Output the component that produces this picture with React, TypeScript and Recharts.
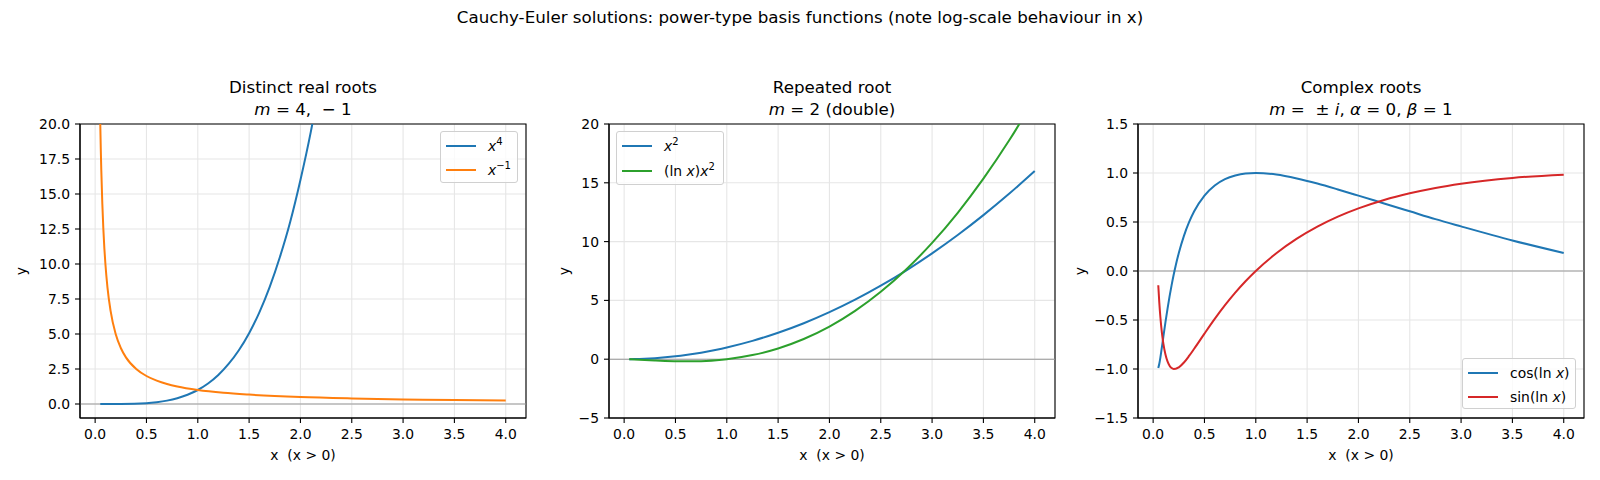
import React from "react"
import { CartesianGrid, Line, LineChart, ReferenceArea, ReferenceLine, XAxis, YAxis } from "recharts"

// values
const X_TICKS = [0, 0.5, 1, 1.5, 2, 2.5, 3, 3.5, 4]

// panel 1: distinct real roots
const P1_POW4_X = [0.05, 0.25, 0.5, 0.6, 0.7, 0.8, 0.9, 1.0, 1.1, 1.2, 1.3, 1.4, 1.5, 1.6, 1.7, 1.8, 1.9, 2.0, 2.1, 2.2]
const P1_POW4_Y = [0, 0.004, 0.06, 0.13, 0.24, 0.41, 0.66, 1.0, 1.46, 2.07, 2.86, 3.84, 5.06, 6.55, 8.35, 10.5, 13.0, 16.0, 19.4, 23.4]
const P1_INV_X = [0.05, 0.055, 0.06, 0.07, 0.08, 0.09, 0.1, 0.12, 0.15, 0.2, 0.25, 0.3, 0.4, 0.5, 0.6, 0.7, 0.8, 1.0, 1.25, 1.5, 2.0, 2.5, 3.0, 3.5, 4.0]
const P1_INV_Y = [20, 18.2, 16.7, 14.3, 12.5, 11.1, 10, 8.33, 6.67, 5, 4, 3.33, 2.5, 2, 1.67, 1.43, 1.25, 1, 0.8, 0.67, 0.5, 0.4, 0.33, 0.29, 0.25]
const P1_Y_TICKS = [0, 2.5, 5, 7.5, 10, 12.5, 15, 17.5, 20]

// panel 2: repeated root
const P2_X = [0.05, 0.1, 0.2, 0.3, 0.4, 0.5, 0.6, 0.7, 0.8, 0.9, 1.0, 1.25, 1.5, 1.75, 2.0, 2.25, 2.5, 2.75, 3.0, 3.25, 3.5, 3.75, 4.0]
const P2_SQ = [0.0025, 0.01, 0.04, 0.09, 0.16, 0.25, 0.36, 0.49, 0.64, 0.81, 1, 1.56, 2.25, 3.06, 4, 5.06, 6.25, 7.56, 9, 10.56, 12.25, 14.06, 16]
const P2_LNSQ = [-0.0075, -0.023, -0.064, -0.108, -0.147, -0.173, -0.184, -0.175, -0.143, -0.085, 0, 0.349, 0.912, 1.714, 2.77, 4.105, 5.73, 7.65, 9.89, 12.45, 15.35, 18.59, 22.18]
const P2_Y_TICKS = [-5, 0, 5, 10, 15, 20]

// panel 3: complex roots
const P3_X = [0.05, 0.06, 0.07, 0.08, 0.09, 0.1, 0.12, 0.14, 0.16, 0.18, 0.2, 0.22, 0.25, 0.3, 0.35, 0.4, 0.5, 0.6, 0.7, 0.8, 0.9, 1.0, 1.2, 1.4, 1.6, 1.8, 2.0, 2.25, 2.5, 2.75, 3.0, 3.5, 4.0]
const P3_COS = [-0.99, -0.947, -0.886, -0.816, -0.743, -0.668, -0.522, -0.386, -0.259, -0.144, -0.038, 0.057, 0.184, 0.359, 0.498, 0.609, 0.769, 0.872, 0.937, 0.975, 0.995, 1, 0.984, 0.944, 0.892, 0.832, 0.769, 0.689, 0.609, 0.529, 0.455, 0.312, 0.184]
const P3_SIN = [-0.145, -0.323, -0.464, -0.577, -0.67, -0.744, -0.853, -0.923, -0.966, -0.99, -0.999, -0.998, -0.983, -0.934, -0.867, -0.793, -0.639, -0.489, -0.349, -0.221, -0.105, 0, 0.181, 0.33, 0.453, 0.555, 0.639, 0.725, 0.793, 0.848, 0.891, 0.95, 0.983]
const P3_Y_TICKS = [-1.5, -1, -0.5, 0, 0.5, 1, 1.5]

const FONT = "'DejaVu Sans', sans-serif"
const X_DOMAIN: [number, number] = [-0.1475, 4.1975]
const PLOT_TOP = 124
const PLOT_H = 294
const PLOT_W = 446

const zip = (xs: number[], ys: number[]) => xs.map((x, i) => ({ x, y: ys[i] }))
const minus = (s: string) => s.replace("-", "\u2212")

const tickStyle = { fontSize: 13.9, fill: "#000", fontFamily: FONT }

interface SeriesDef {
  name: string
  color: string
  data: { x: number; y: number }[]
}

interface PanelProps {
  plotLeft: number
  yDomain: [number, number]
  yTicks: number[]
  yFmt: (v: number) => string
  series: SeriesDef[]
}

function Panel({ plotLeft, yDomain, yTicks, yFmt, series }: PanelProps) {
  const leftPad = 60
  return (
    <div style={{ position: "absolute", left: plotLeft - leftPad, top: 0 }}>
      <LineChart
        width={leftPad + PLOT_W + 4}
        height={480}
        margin={{ top: PLOT_TOP, right: 4, left: 5, bottom: 480 - PLOT_TOP - PLOT_H - 30 }}
      >
        <CartesianGrid stroke="#e6e6e6" strokeWidth={1.1} />
        <XAxis
          dataKey="x"
          type="number"
          domain={X_DOMAIN}
          ticks={X_TICKS}
          allowDataOverflow
          height={30}
          tickSize={5}
          tickMargin={6}
          tick={tickStyle}
          tickFormatter={(v: number) => v.toFixed(1)}
          stroke="#000"
          axisLine={{ stroke: "#000", strokeWidth: 1.1 }}
          tickLine={{ stroke: "#000", strokeWidth: 1.1 }}
          interval={0}
        />
        <YAxis
          type="number"
          domain={yDomain}
          ticks={yTicks}
          allowDataOverflow
          width={55}
          tickSize={5}
          tickMargin={5}
          tick={tickStyle}
          tickFormatter={(v: number) => minus(yFmt(v))}
          axisLine={{ stroke: "#000", strokeWidth: 1.1 }}
          tickLine={{ stroke: "#000", strokeWidth: 1.1 }}
          interval={0}
        />
        <ReferenceLine y={0} stroke="#999" strokeWidth={1.1} />
        {series.map((s) => (
          <Line
            key={s.name}
            data={s.data}
            dataKey="y"
            type="monotone"
            stroke={s.color}
            strokeWidth={2}
            dot={false}
            isAnimationActive={false}
          />
        ))}
        <ReferenceArea
          x1={X_DOMAIN[0]}
          x2={X_DOMAIN[1]}
          y1={yDomain[0]}
          y2={yDomain[1]}
          fill="none"
          fillOpacity={0}
          stroke="#000"
          strokeWidth={1.1}
        />
      </LineChart>
    </div>
  )
}

interface LegendRow {
  color: string
  label: React.ReactNode
  y: number
}

function LegendBox({ left, top, width, height, rows }: { left: number; top: number; width: number; height: number; rows: LegendRow[] }) {
  return (
    <div
      style={{
        position: "absolute",
        left,
        top,
        width,
        height,
        boxSizing: "border-box",
        border: "1px solid #d0d0d0",
        borderRadius: 3,
        background: "rgba(255,255,255,0.8)",
        fontFamily: FONT,
        fontSize: 13.9,
      }}
    >
      {rows.map((r, i) => (
        <React.Fragment key={i}>
          <div style={{ position: "absolute", left: 5, top: r.y - 1, width: 30, height: 2, background: r.color }} />
          <div style={{ position: "absolute", left: 47, top: r.y - 9, lineHeight: "18px", whiteSpace: "pre" }}>{r.label}</div>
        </React.Fragment>
      ))}
    </div>
  )
}

const Sup = ({ children }: { children: React.ReactNode }) => (
  <span style={{ fontSize: 10, position: "relative", top: -6 }}>{children}</span>
)

function Title({ cx, line1, line2 }: { cx: number; line1: string; line2: React.ReactNode }) {
  return (
    <div style={{ position: "absolute", left: cx - 200, width: 400, top: 76, textAlign: "center", fontFamily: FONT, fontSize: 16.7, lineHeight: "22px", whiteSpace: "pre" }}>
      <div>{line1}</div>
      <div>{line2}</div>
    </div>
  )
}

function AxisLabels({ plotLeft, yLabelX }: { plotLeft: number; yLabelX: number }) {
  return (
    <>
      <div style={{ position: "absolute", left: plotLeft, width: PLOT_W, top: 446, textAlign: "center", fontFamily: FONT, fontSize: 13.9, lineHeight: "18px", whiteSpace: "pre" }}>
        x  (x &gt; 0)
      </div>
      <div
        style={{
          position: "absolute",
          left: yLabelX - 20,
          width: 40,
          top: PLOT_TOP + PLOT_H / 2 - 9,
          textAlign: "center",
          fontFamily: FONT,
          fontSize: 13.9,
          lineHeight: "18px",
          transform: "rotate(-90deg)",
        }}
      >
        y
      </div>
    </>
  )
}

const LEFTS = [80, 609, 1138]
const C = { blue: "#1f77b4", orange: "#ff7f0e", green: "#2ca02c", red: "#d62728" }

export default function App() {
  const cx = LEFTS.map((l) => l + PLOT_W / 2)
  return (
    <div style={{ position: "absolute", left: 0, top: 0, width: 1600, height: 480, background: "#fff", overflow: "hidden" }}>
      <div style={{ position: "absolute", left: 0, width: 1600, top: 7, textAlign: "center", fontFamily: FONT, fontSize: 16.7, lineHeight: "20px" }}>
        Cauchy-Euler solutions: power-type basis functions (note log-scale behaviour in x)
      </div>

      <Panel
        plotLeft={LEFTS[0]}
        yDomain={[-1, 20]}
        yTicks={P1_Y_TICKS}
        yFmt={(v) => v.toFixed(1)}
        series={[
          { name: "x^4", color: C.blue, data: zip(P1_POW4_X, P1_POW4_Y) },
          { name: "x^-1", color: C.orange, data: zip(P1_INV_X, P1_INV_Y) },
        ]}
      />
      <Panel
        plotLeft={LEFTS[1]}
        yDomain={[-5, 20]}
        yTicks={P2_Y_TICKS}
        yFmt={(v) => String(v)}
        series={[
          { name: "x^2", color: C.blue, data: zip(P2_X, P2_SQ) },
          { name: "lnx x^2", color: C.green, data: zip(P2_X, P2_LNSQ) },
        ]}
      />
      <Panel
        plotLeft={LEFTS[2]}
        yDomain={[-1.5, 1.5]}
        yTicks={P3_Y_TICKS}
        yFmt={(v) => v.toFixed(1)}
        series={[
          { name: "cos", color: C.blue, data: zip(P3_X, P3_COS) },
          { name: "sin", color: C.red, data: zip(P3_X, P3_SIN) },
        ]}
      />

      <Title cx={cx[0]} line1="Distinct real roots" line2={<><i>m</i> = 4,  − 1</>} />
      <Title cx={cx[1]} line1="Repeated root" line2={<><i>m</i> = 2 (double)</>} />
      <Title cx={cx[2]} line1="Complex roots" line2={<><i>m</i> =  ± <i>i</i>, <i>α</i> = 0, <i>β</i> = 1</>} />

      <AxisLabels plotLeft={LEFTS[0]} yLabelX={21} />
      <AxisLabels plotLeft={LEFTS[1]} yLabelX={564} />
      <AxisLabels plotLeft={LEFTS[2]} yLabelX={1080} />

      <LegendBox
        left={440}
        top={131}
        width={78}
        height={52}
        rows={[
          { color: C.blue, y: 14, label: <><i>x</i><Sup>4</Sup></> },
          { color: C.orange, y: 38, label: <><i>x</i><Sup>−1</Sup></> },
        ]}
      />
      <LegendBox
        left={616}
        top={131}
        width={108}
        height={54}
        rows={[
          { color: C.blue, y: 14, label: <><i>x</i><Sup>2</Sup></> },
          { color: C.green, y: 39, label: <>(ln <i>x</i>)<i>x</i><Sup>2</Sup></> },
        ]}
      />
      <LegendBox
        left={1462}
        top={358}
        width={114}
        height={51}
        rows={[
          { color: C.blue, y: 14, label: <>cos(ln <i>x</i>)</> },
          { color: C.red, y: 38, label: <>sin(ln <i>x</i>)</> },
        ]}
      />
    </div>
  )
}
